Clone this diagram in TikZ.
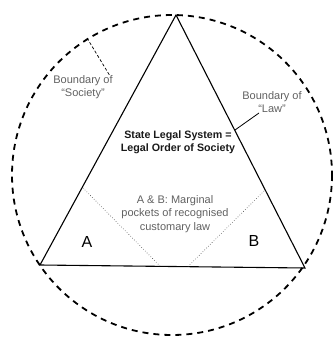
\documentclass[tikz,border=0pt]{standalone}
\usepackage{fontspec}
\setmainfont{Liberation Sans}
\begin{document}
\begin{tikzpicture}[x=1pt,y=-1pt,
  circ/.style={line width=1.8pt, dash pattern=on 6pt off 5pt},
  tri/.style={line width=1.1pt},
  dots/.style={line width=0.6pt, dotted, black!70},
  lbl/.style={font=\fontsize{11}{13}\selectfont, text=black!62, align=center, inner sep=0pt},
  main/.style={font=\fontsize{10.7}{13.5}\selectfont\bfseries, text=black!90, align=center, inner sep=0pt},
  big/.style={font=\fontsize{16}{18}\selectfont, inner sep=0pt}]
\useasboundingbox (0,0) rectangle (334,337);
\coordinate (ctr) at (172,175);
\draw[circ] (ctr) circle (160);
\coordinate (top) at (176,15);
\coordinate (bl) at (40,265);
\coordinate (br) at (305,268);
\draw[tri] (top) -- (bl) -- (br) -- cycle;
\coordinate (aL) at (83,188);
\coordinate (aB) at (160,266);
\coordinate (bR) at (264,191);
\coordinate (bB) at (188,266.5);
\draw[dots] (aL) -- (aB);
\draw[dots] (bR) -- (bB);
\coordinate (socC) at (87,38);
\coordinate (socE) at (110,76);
\draw[line width=0.7pt, dash pattern=on 3pt off 2pt] (socC) -- (socE);
\node[lbl] (soc) at (83,87.5) {Boundary of\\``Society''};
\coordinate (lawT) at (235,130);
\coordinate (lawE) at (259,113);
\draw[line width=0.8pt] (lawT) -- (lawE);
\node[lbl] (law) at (272,102.5) {Boundary of\\``Law''};
\node[main] (m) at (178,142.5) {State Legal System =\\Legal Order of Society};
\node[lbl, font=\fontsize{11}{13.2}\selectfont] (ab) at (175,214) {A \& B: Marginal\\pockets of recognised\\customary law};
\node[big] (A) at (87,242) {A};
\node[big] (B) at (254,241) {B};
\end{tikzpicture}
\end{document}
